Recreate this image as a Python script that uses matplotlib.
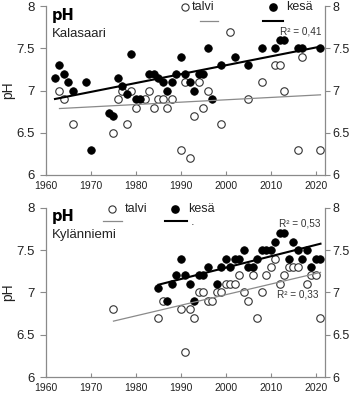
import numpy as np
import matplotlib.pyplot as plt
from matplotlib.lines import Line2D

SANS = ['Liberation Sans', 'DejaVu Sans']

# Kalasaari, summer (kesä)
kal_kesa_v = [1962, 1963, 1964, 1965, 1966, 1969, 1970, 1974, 1975, 1976,
              1977, 1978, 1979, 1980, 1981, 1983, 1984, 1985, 1986, 1987,
              1988, 1989, 1990, 1991, 1992, 1993, 1994, 1995, 1996, 1997,
              1999, 2002, 2005, 2008, 2011, 2012, 2013, 2016, 2017, 2021]
kal_kesa_ph = [7.15, 7.30, 7.20, 7.10, 7.00, 7.10, 6.30, 6.73, 6.70, 7.15,
               7.05, 6.96, 7.44, 6.90, 6.90, 7.20, 7.20, 7.15, 7.10, 7.00,
               7.10, 7.20, 7.40, 7.20, 7.10, 7.00, 7.20, 7.20, 7.50, 6.90,
               7.30, 7.40, 7.30, 7.50, 7.50, 7.60, 7.60, 7.50, 7.50, 7.50]

# Kalasaari, winter (talvi)
kal_talvi_v = [1963, 1964, 1966, 1975, 1976, 1977, 1978, 1979, 1980, 1982,
               1983, 1984, 1985, 1986, 1987, 1988, 1990, 1991, 1992, 1993,
               1994, 1995, 1996, 1999, 2001, 2005, 2008, 2011, 2012, 2013,
               2016, 2017, 2021]
kal_talvi_ph = [7.0, 6.9, 6.6, 6.5, 6.9, 7.0, 6.6, 7.0, 6.8, 6.9,
                7.0, 6.8, 6.9, 6.9, 6.8, 6.9, 6.3, 7.1, 6.2, 6.7,
                7.1, 6.8, 7.0, 6.6, 7.7, 6.9, 7.1, 7.3, 7.3, 7.0,
                6.3, 7.4, 6.3]

# Kylänniemi, summer (kesä)
kyl_kesa_v = [1985, 1987, 1988, 1989, 1990, 1991, 1992, 1993, 1994, 1995,
              1996, 1998, 1999, 2000, 2001, 2002, 2003, 2004, 2005, 2006,
              2007, 2008, 2009, 2010, 2011, 2012, 2013, 2014, 2015, 2016,
              2017, 2018, 2019, 2020, 2021]
kyl_kesa_ph = [7.05, 6.9, 7.1, 7.2, 7.4, 7.2, 7.1, 6.9, 7.2, 7.2,
               7.3, 7.1, 7.3, 7.4, 7.3, 7.4, 7.4, 7.5, 7.3, 7.3,
               7.4, 7.5, 7.5, 7.5, 7.6, 7.7, 7.7, 7.4, 7.6, 7.5,
               7.4, 7.5, 7.3, 7.4, 7.4]

# Kylänniemi, winter (talvi)
kyl_talvi_v = [1975, 1985, 1986, 1990, 1991, 1992, 1993, 1994, 1995, 1996,
               1997, 1998, 1999, 2000, 2001, 2002, 2003, 2004, 2005, 2006,
               2007, 2008, 2009, 2010, 2011, 2012, 2013, 2014, 2015, 2016,
               2018, 2019, 2020, 2021]
kyl_talvi_ph = [6.8, 6.7, 6.9, 6.8, 6.3, 6.8, 6.7, 7.0, 7.0, 6.9,
                6.9, 7.0, 7.0, 7.1, 7.1, 7.1, 7.2, 7.0, 6.9, 7.2,
                6.7, 7.0, 7.2, 7.3, 7.4, 7.1, 7.2, 7.3, 7.3, 7.3,
                7.1, 7.2, 7.2, 6.7]

panels = [
    ('Kalasaari', kal_talvi_v, kal_talvi_ph, kal_kesa_v, kal_kesa_ph),
    ('Kylänniemi', kyl_talvi_v, kyl_talvi_ph, kyl_kesa_v, kyl_kesa_ph),
]
r2_labels = [[None, 'R² = 0,41'], ['R² = 0,33', 'R² = 0,53']]

ph_ticks = [6, 6.5, 7, 7.5, 8]
ph_ticklabels = ['6', '6.5', '7', '7.5', '8']

GRAY = '#8a8a8a'
TXT = '#222222'

fig = plt.figure(figsize=(3.5, 4.01), dpi=100)
ax1 = fig.add_axes([0.1314, 0.5636, 0.7971, 0.4207])
ax2 = fig.add_axes([0.1314, 0.0598, 0.7971, 0.4222])


def trend(ax, x, y, **kw):
    x = np.asarray(x, float)
    k, b = np.polyfit(x, y, 1)
    xx = np.array([x.min(), x.max()])
    ax.plot(xx, k * xx + b, zorder=4, **kw)


for ax, (name, tv, tp, kv, kp) in zip([ax1, ax2], panels):
    ax.plot(tv, tp, 'o', ms=5.4, mfc='white', mec='#333333', mew=0.8,
            zorder=2, clip_on=False)
    ax.plot(kv, kp, 'o', ms=5.4, mfc='black', mec='black', mew=0.6,
            zorder=3, clip_on=False)
    trend(ax, tv, tp, color=GRAY, lw=0.9)
    trend(ax, kv, kp, color='black', lw=1.5)

    ax.set_xlim(1960, 2022)
    ax.set_ylim(6, 8)
    ax.set_xticks(np.arange(1960, 2021, 10))
    ax.set_yticks(ph_ticks)
    ax.set_yticklabels(ph_ticklabels)
    for s in ['top', 'right']:
        ax.spines[s].set_visible(False)
    for s in ['left', 'bottom']:
        ax.spines[s].set_color(GRAY)
        ax.spines[s].set_linewidth(0.9)
    ax.tick_params(axis='y', direction='out', length=4, color=GRAY,
                   pad=4, labelsize=9.5, labelcolor=TXT)
    ax.tick_params(axis='x', direction='in', length=3, color=GRAY,
                   pad=4, labelsize=7.5, labelcolor=TXT)
    for lab in ax.get_xticklabels() + ax.get_yticklabels():
        lab.set_family(SANS)
    ax.set_ylabel('pH', family=SANS, fontsize=10, labelpad=1, color=TXT)

    # same pH scale repeated on the right
    axr = ax.twinx()
    axr.set_ylim(6, 8)
    axr.set_yticks(ph_ticks)
    axr.set_yticklabels(ph_ticklabels)
    for s in ['top', 'left', 'bottom']:
        axr.spines[s].set_visible(False)
    axr.spines['right'].set_color(GRAY)
    axr.spines['right'].set_linewidth(0.9)
    axr.tick_params(axis='y', direction='out', length=3.5, color=GRAY,
                    pad=2, labelsize=9, labelcolor=TXT)
    for lab in axr.get_yticklabels():
        lab.set_family(SANS)

    ax.text(0.02, 0.92, 'pH', transform=ax.transAxes, fontsize=10.5,
            fontweight='bold', family='DejaVu Sans', va='baseline')
    ax.text(0.02, 0.82, name, transform=ax.transAxes, fontsize=9.5,
            family=SANS, va='baseline', color=TXT)

ax1.text(0.989, 0.848, r2_labels[0][1], transform=ax1.transAxes, ha='right',
         va='center', fontsize=7.2, family=SANS, color='#333333')
ax2.text(0.984, 0.907, r2_labels[1][1], transform=ax2.transAxes, ha='right',
         va='center', fontsize=7.2, family=SANS, color='#333333')
ax2.text(0.978, 0.490, r2_labels[1][0], transform=ax2.transAxes, ha='right',
         va='center', fontsize=7.2, family=SANS, color='#333333')

# hand-placed legends: marker row with names, trend-line row below
legend_pos = [
    # talvi marker x, text x, kesä marker x, text x, row y, line y,
    # talvi line span, kesä line span
    (0.498, 0.523, 0.8125, 0.859, 0.994, 0.915, (0.552, 0.618), (0.779, 0.851)),
    (0.236, 0.281, 0.464, 0.511, 0.992, 0.921, (0.205, 0.273), (0.428, 0.507)),
]
for ax, (tm, tt, km, kt, ry, ly, tl, kl) in zip([ax1, ax2], legend_pos):
    tr = ax.transAxes
    ax.add_line(Line2D([tm], [ry], marker='o', ms=5.2, mfc='white',
                       mec='#333333', mew=0.8, transform=tr, clip_on=False))
    ax.add_line(Line2D([km], [ry], marker='o', ms=5.2, mfc='black',
                       mec='black', transform=tr, clip_on=False))
    ax.text(tt, ry, 'talvi', transform=tr, va='center', fontsize=9,
            family=SANS, color=TXT)
    ax.text(kt, ry, 'kesä', transform=tr, va='center', fontsize=9,
            family=SANS, color=TXT)
    ax.add_line(Line2D(list(tl), [ly, ly], color=GRAY, lw=0.9,
                       transform=tr, clip_on=False))
    ax.add_line(Line2D(list(kl), [ly, ly], color='black', lw=1.5,
                       transform=tr, clip_on=False))
ax2.text(0.518, 0.915, '.', transform=ax2.transAxes, va='center',
         fontsize=8, color='#333333')

fig.savefig('out.png', dpi=100)
